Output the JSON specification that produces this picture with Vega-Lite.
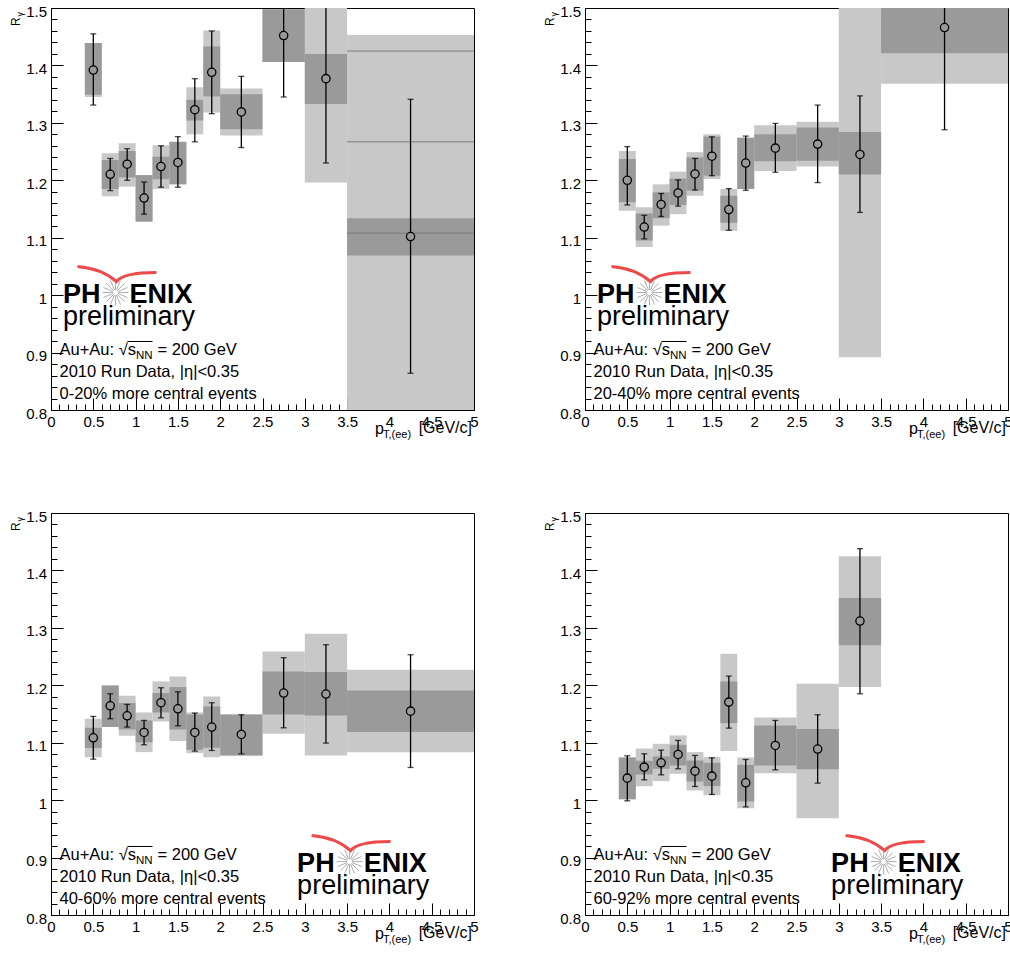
{
"$schema": "https://vega.github.io/schema/vega-lite/v6.json",
"background": "white",
"padding": {"left": 9, "top": 3, "right": 5, "bottom": 5},
"config": {
 "view": {"stroke": "black", "strokeWidth": 1},
 "axis": {"labelFont": "Liberation Sans", "labelFontSize": 15, "labelColor": "black", "tickColor": "black", "tickWidth": 1, "domainColor": "black", "domainWidth": 1, "grid": false, "labelOverlap": false, "labelFlush": false, "tickCount": 200},
 "text": {"font": "Liberation Sans", "color": "black"}
},
"datasets": {
 "pts": [
  {"p":1,"x":0.5,"y":1.392,"elo":1.331,"ehi":1.455,"slo":1.345,"shi":1.439,"dlo":1.349,"dhi":1.439,"xl":0.4,"xh":0.6},
  {"p":1,"x":0.7,"y":1.2105,"elo":1.182,"ehi":1.238,"slo":1.172,"shi":1.247,"dlo":1.185,"dhi":1.2355,"xl":0.6,"xh":0.8},
  {"p":1,"x":0.9,"y":1.228,"elo":1.2,"ehi":1.255,"slo":1.189,"shi":1.2645,"dlo":1.205,"dhi":1.251,"xl":0.8,"xh":1.0},
  {"p":1,"x":1.1,"y":1.169,"elo":1.141,"ehi":1.197,"slo":1.128,"shi":1.209,"dlo":1.128,"dhi":1.209,"xl":1.0,"xh":1.2},
  {"p":1,"x":1.3,"y":1.224,"elo":1.188,"ehi":1.26,"slo":1.185,"shi":1.261,"dlo":1.202,"dhi":1.241,"xl":1.2,"xh":1.4},
  {"p":1,"x":1.5,"y":1.231,"elo":1.188,"ehi":1.276,"slo":1.193,"shi":1.267,"dlo":1.193,"dhi":1.267,"xl":1.4,"xh":1.6},
  {"p":1,"x":1.7,"y":1.323,"elo":1.267,"ehi":1.377,"slo":1.28,"shi":1.362,"dlo":1.304,"dhi":1.34,"xl":1.6,"xh":1.8},
  {"p":1,"x":1.9,"y":1.388,"elo":1.316,"ehi":1.46,"slo":1.318,"shi":1.461,"dlo":1.346,"dhi":1.433,"xl":1.8,"xh":2.0},
  {"p":1,"x":2.25,"y":1.319,"elo":1.257,"ehi":1.381,"slo":1.278,"shi":1.36,"dlo":1.289,"dhi":1.35,"xl":2.0,"xh":2.5},
  {"p":1,"x":2.75,"y":1.452,"elo":1.345,"ehi":1.559,"slo":1.406,"shi":1.498,"dlo":1.406,"dhi":1.498,"xl":2.5,"xh":3.0},
  {"p":1,"x":3.25,"y":1.377,"elo":1.23,"ehi":1.524,"slo":1.196,"shi":1.558,"dlo":1.333,"dhi":1.42,"xl":3.0,"xh":3.5},
  {"p":1,"x":4.25,"y":1.102,"elo":0.864,"ehi":1.341,"slo":0.751,"shi":1.453,"dlo":1.069,"dhi":1.134,"xl":3.5,"xh":5.0},
  {"p":2,"x":0.5,"y":1.2,"elo":1.157,"ehi":1.2587,"slo":1.1471,"shi":1.2512,"dlo":1.1616,"dhi":1.2372,"xl":0.4,"xh":0.6},
  {"p":2,"x":0.7,"y":1.1186,"elo":1.098,"ehi":1.139,"slo":1.084,"shi":1.153,"dlo":1.095,"dhi":1.142,"xl":0.6,"xh":0.8},
  {"p":2,"x":0.9,"y":1.158,"elo":1.137,"ehi":1.177,"slo":1.121,"shi":1.193,"dlo":1.134,"dhi":1.179,"xl":0.8,"xh":1.0},
  {"p":2,"x":1.1,"y":1.178,"elo":1.155,"ehi":1.2006,"slo":1.141,"shi":1.215,"dlo":1.157,"dhi":1.203,"xl":1.0,"xh":1.2},
  {"p":2,"x":1.3,"y":1.211,"elo":1.183,"ehi":1.238,"slo":1.173,"shi":1.249,"dlo":1.182,"dhi":1.24,"xl":1.2,"xh":1.4},
  {"p":2,"x":1.5,"y":1.242,"elo":1.208,"ehi":1.2756,"slo":1.2023,"shi":1.28,"dlo":1.208,"dhi":1.276,"xl":1.4,"xh":1.6},
  {"p":2,"x":1.7,"y":1.149,"elo":1.113,"ehi":1.1855,"slo":1.112,"shi":1.185,"dlo":1.126,"dhi":1.173,"xl":1.6,"xh":1.8},
  {"p":2,"x":1.9,"y":1.23,"elo":1.1826,"ehi":1.277,"slo":1.185,"shi":1.274,"dlo":1.185,"dhi":1.274,"xl":1.8,"xh":2.0},
  {"p":2,"x":2.25,"y":1.256,"elo":1.214,"ehi":1.299,"slo":1.216,"shi":1.296,"dlo":1.233,"dhi":1.28,"xl":2.0,"xh":2.5},
  {"p":2,"x":2.75,"y":1.263,"elo":1.196,"ehi":1.331,"slo":1.224,"shi":1.302,"dlo":1.234,"dhi":1.292,"xl":2.5,"xh":3.0},
  {"p":2,"x":3.25,"y":1.245,"elo":1.144,"ehi":1.347,"slo":0.892,"shi":1.598,"dlo":1.21,"dhi":1.284,"xl":3.0,"xh":3.5},
  {"p":2,"x":4.25,"y":1.466,"elo":1.288,"ehi":1.644,"slo":1.368,"shi":1.564,"dlo":1.421,"dhi":1.511,"xl":3.5,"xh":5.0},
  {"p":3,"x":0.5,"y":1.1086,"elo":1.0714,"ehi":1.1458,"slo":1.0749,"shi":1.1417,"dlo":1.0906,"dhi":1.126,"xl":0.4,"xh":0.6},
  {"p":3,"x":0.7,"y":1.1643,"elo":1.1417,"ehi":1.1852,"slo":1.1272,"shi":1.1998,"dlo":1.1272,"dhi":1.1998,"xl":0.6,"xh":0.8},
  {"p":3,"x":0.9,"y":1.1469,"elo":1.1272,"ehi":1.1667,"slo":1.1121,"shi":1.1818,"dlo":1.1231,"dhi":1.169,"xl":0.8,"xh":1.0},
  {"p":3,"x":1.1,"y":1.1179,"elo":1.0964,"ehi":1.1388,"slo":1.0836,"shi":1.1527,"dlo":1.1005,"dhi":1.1388,"xl":1.0,"xh":1.2},
  {"p":3,"x":1.3,"y":1.1696,"elo":1.1434,"ehi":1.1957,"slo":1.137,"shi":1.2067,"dlo":1.1527,"dhi":1.1864,"xl":1.2,"xh":1.4},
  {"p":3,"x":1.5,"y":1.1591,"elo":1.1295,"ehi":1.1887,"slo":1.1028,"shi":1.2154,"dlo":1.1231,"dhi":1.1969,"xl":1.4,"xh":1.6},
  {"p":3,"x":1.7,"y":1.1179,"elo":1.0854,"ehi":1.1516,"slo":1.0819,"shi":1.1527,"dlo":1.0877,"dhi":1.1492,"xl":1.6,"xh":1.8},
  {"p":3,"x":1.9,"y":1.1272,"elo":1.0865,"ehi":1.1696,"slo":1.0749,"shi":1.1806,"dlo":1.0912,"dhi":1.1632,"xl":1.8,"xh":2.0},
  {"p":3,"x":2.25,"y":1.1144,"elo":1.0807,"ehi":1.1487,"slo":1.0778,"shi":1.1492,"dlo":1.0778,"dhi":1.1492,"xl":2.0,"xh":2.5},
  {"p":3,"x":2.75,"y":1.1864,"elo":1.126,"ehi":1.248,"slo":1.1156,"shi":1.259,"dlo":1.1492,"dhi":1.2242,"xl":2.5,"xh":3.0},
  {"p":3,"x":3.25,"y":1.1847,"elo":1.0993,"ehi":1.2706,"slo":1.0778,"shi":1.2898,"dlo":1.1475,"dhi":1.223,"xl":3.0,"xh":3.5},
  {"p":3,"x":4.25,"y":1.155,"elo":1.0569,"ehi":1.2532,"slo":1.0836,"shi":1.2271,"dlo":1.1185,"dhi":1.191,"xl":3.5,"xh":5.0},
  {"p":4,"x":0.5,"y":1.0383,"elo":0.9988,"ehi":1.0772,"slo":1.0017,"shi":1.0743,"dlo":1.0017,"dhi":1.0743,"xl":0.4,"xh":0.6},
  {"p":4,"x":0.7,"y":1.0575,"elo":1.0354,"ehi":1.0807,"slo":1.0244,"shi":1.09,"dlo":1.0447,"dhi":1.0685,"xl":0.6,"xh":0.8},
  {"p":4,"x":0.9,"y":1.065,"elo":1.0441,"ehi":1.0871,"slo":1.0331,"shi":1.0981,"dlo":1.0546,"dhi":1.0761,"xl":0.8,"xh":1.0},
  {"p":4,"x":1.1,"y":1.0796,"elo":1.0546,"ehi":1.104,"slo":1.0459,"shi":1.1127,"dlo":1.0604,"dhi":1.0964,"xl":1.0,"xh":1.2},
  {"p":4,"x":1.3,"y":1.0505,"elo":1.0238,"ehi":1.0778,"slo":1.0168,"shi":1.0836,"dlo":1.0325,"dhi":1.069,"xl":1.2,"xh":1.4},
  {"p":4,"x":1.5,"y":1.0418,"elo":1.0099,"ehi":1.0737,"slo":1.0087,"shi":1.0749,"dlo":1.0244,"dhi":1.065,"xl":1.4,"xh":1.6},
  {"p":4,"x":1.7,"y":1.1707,"elo":1.1254,"ehi":1.216,"slo":1.0854,"shi":1.2549,"dlo":1.1341,"dhi":1.2067,"xl":1.6,"xh":1.8},
  {"p":4,"x":1.9,"y":1.0302,"elo":0.9883,"ehi":1.0708,"slo":0.9861,"shi":1.0743,"dlo":0.9977,"dhi":1.0615,"xl":1.8,"xh":2.0},
  {"p":4,"x":2.25,"y":1.0952,"elo":1.0528,"ehi":1.1388,"slo":1.047,"shi":1.144,"dlo":1.0604,"dhi":1.13,"xl":2.0,"xh":2.5},
  {"p":4,"x":2.75,"y":1.0889,"elo":1.0296,"ehi":1.1487,"slo":0.9686,"shi":1.2027,"dlo":1.054,"dhi":1.1237,"xl":2.5,"xh":3.0},
  {"p":4,"x":3.25,"y":1.3118,"elo":1.1852,"ehi":1.4379,"slo":1.1969,"shi":1.4245,"dlo":1.2695,"dhi":1.3519,"xl":3.0,"xh":3.5}
 ],
 "lines": [
  {"p":1,"lo":3.5,"hi":5.0,"y":1.425},
  {"p":1,"lo":3.5,"hi":5.0,"y":1.267},
  {"p":1,"lo":3.5,"hi":5.0,"y":1.108}
 ]
},
"concat": [
 {"width": 423, "height": 402, "layer": [
  {"data": {"name": "pts"}, "transform": [{"filter": "datum.p == 1"}], "mark": {"type": "rect", "fill": "#c8c8c8", "clip": true},
   "encoding": {"x": {"field": "xl", "type": "quantitative", "scale": {"domain": [0, 5], "nice": false, "zero": false},
     "axis": {"title": null, "tickCount": 200, "values": [0,0.1,0.2,0.3,0.4,0.5,0.6,0.7,0.8,0.9,1,1.1,1.2,1.3,1.4,1.5,1.6,1.7,1.8,1.9,2,2.1,2.2,2.3,2.4,2.5,2.6,2.7,2.8,2.9,3,3.1,3.2,3.3,3.4,3.5,3.6,3.7,3.8,3.9,4,4.1,4.2,4.3,4.4,4.5,4.6,4.7,4.8,4.9,5],
      "labelExpr": "abs(datum.value*2-round(datum.value*2)) < 0.001 ? format(datum.value, '~g') : ''",
      "tickSize": {"condition": {"test": "abs(datum.value*2-round(datum.value*2)) < 0.001", "value": -12}, "value": -6},
      "labelPadding": 16.5, "labelBaseline": "top"}},
    "x2": {"field": "xh"},
    "y": {"field": "slo", "type": "quantitative", "scale": {"domain": [0.8, 1.5], "nice": false, "zero": false},
     "axis": {"title": null, "tickCount": 200, "values": [0.8,0.82,0.84,0.86,0.88,0.9,0.92,0.94,0.96,0.98,1,1.02,1.04,1.06,1.08,1.1,1.12,1.14,1.16,1.18,1.2,1.22,1.24,1.26,1.28,1.3,1.32,1.34,1.36,1.38,1.4,1.42,1.44,1.46,1.48,1.5],
      "labelExpr": "abs(datum.value*10-round(datum.value*10)) < 0.001 ? format(datum.value, '~g') : ''",
      "tickSize": {"condition": {"test": "abs(datum.value*10-round(datum.value*10)) < 0.001", "value": -12}, "value": -6},
      "labelPadding": 16.5, "labelOffset": 3, "labelBaseline": "middle"}},
    "y2": {"field": "shi"}}},
  {"data": {"name": "pts"}, "transform": [{"filter": "datum.p == 1"}], "mark": {"type": "rect", "fill": "#9a9a9a", "clip": true},
   "encoding": {"x": {"field": "xl", "type": "quantitative", "title": null}, "x2": {"field": "xh"}, "y": {"field": "dlo", "type": "quantitative", "title": null}, "y2": {"field": "dhi"}}},
  {"data": {"name": "lines"}, "transform": [{"filter": "datum.p == 1"}], "mark": {"type": "rule", "color": "#7a7a7a", "strokeWidth": 1, "clip": true},
   "encoding": {"x": {"field": "lo", "type": "quantitative", "title": null}, "x2": {"field": "hi"}, "y": {"field": "y", "type": "quantitative", "title": null}}},
  {"data": {"name": "pts"}, "transform": [{"filter": "datum.p == 1"}], "mark": {"type": "rule", "color": "black", "strokeWidth": 1.3, "clip": true},
   "encoding": {"x": {"field": "x", "type": "quantitative", "title": null}, "y": {"field": "elo", "type": "quantitative", "title": null}, "y2": {"field": "ehi"}}},
  {"data": {"name": "pts"}, "transform": [{"filter": "datum.p == 1"}], "mark": {"type": "tick", "orient": "horizontal", "size": 6, "thickness": 1.3, "color": "black", "clip": true},
   "encoding": {"x": {"field": "x", "type": "quantitative", "title": null}, "y": {"field": "elo", "type": "quantitative", "title": null}}},
  {"data": {"name": "pts"}, "transform": [{"filter": "datum.p == 1"}], "mark": {"type": "tick", "orient": "horizontal", "size": 6, "thickness": 1.3, "color": "black", "clip": true},
   "encoding": {"x": {"field": "x", "type": "quantitative", "title": null}, "y": {"field": "ehi", "type": "quantitative", "title": null}}},
  {"data": {"name": "pts"}, "transform": [{"filter": "datum.p == 1"}], "mark": {"type": "point", "shape": "circle", "size": 68, "filled": true, "fill": "#9a9a9a", "stroke": "black", "strokeWidth": 1.3, "opacity": 1, "clip": true},
   "encoding": {"x": {"field": "x", "type": "quantitative", "title": null}, "y": {"field": "y", "type": "quantitative", "title": null}}},
  {"data": {"values": [{}]}, "mark": {"type": "point", "shape": "M-0.95,-0.65 Q-0.35,-0.6 0.025,-0.275 Q0.2,-0.5 1.025,-0.5", "size": 6400, "filled": false, "stroke": "#e60000", "strokeWidth": 3},
   "encoding": {"x": {"datum": 0.762}, "y": {"datum": 1.0046}}},
  {"data": {"values": [{}]}, "mark": {"type": "point", "shape": "M0.2,0L1,0M0.185,0.077L0.924,0.383M0.141,0.141L0.707,0.707M0.077,0.185L0.383,0.924M0,0.2L0,1M-0.077,0.185L-0.383,0.924M-0.141,0.141L-0.707,0.707M-0.185,0.077L-0.924,0.383M-0.2,0L-1,0M-0.185,-0.077L-0.924,-0.383M-0.141,-0.141L-0.707,-0.707M-0.077,-0.185L-0.383,-0.924M0,-0.2L0,-1M0.077,-0.185L0.383,-0.924M0.141,-0.141L0.707,-0.707M0.185,-0.077L0.924,-0.383", "size": 676, "filled": false, "stroke": "#8c8c8c", "strokeWidth": 1},
   "encoding": {"x": {"datum": 0.762}, "y": {"datum": 1.0046}}},
  {"data": {"values": [{}]}, "mark": {"type": "text", "text": "PH", "fontSize": 27, "fontWeight": "bold", "align": "right", "baseline": "alphabetic", "dx": -15, "dy": 10},
   "encoding": {"x": {"datum": 0.762}, "y": {"datum": 1.0046}}},
  {"data": {"values": [{}]}, "mark": {"type": "text", "text": "ENIX", "fontSize": 27, "fontWeight": "bold", "align": "left", "baseline": "alphabetic", "dx": 14, "dy": 10},
   "encoding": {"x": {"datum": 0.762}, "y": {"datum": 1.0046}}},
  {"data": {"values": [{}]}, "mark": {"type": "text", "text": "preliminary", "fontSize": 27, "align": "center", "baseline": "alphabetic", "dx": 13.5, "dy": 32},
   "encoding": {"x": {"datum": 0.762}, "y": {"datum": 1.0046}}},
  {"data": {"values": [{}]}, "mark": {"type": "text", "text": "Au+Au: \u221as", "fontSize": 16.5, "align": "left", "baseline": "alphabetic", "dx": 8.5, "dy": -55.5},
   "encoding": {"x": {"datum": 0}, "y": {"datum": 0.8}}},
  {"data": {"values": [{}]}, "mark": {"type": "text", "text": "NN", "fontSize": 11.5, "align": "left", "baseline": "alphabetic", "dx": 85, "dy": -51.5},
   "encoding": {"x": {"datum": 0}, "y": {"datum": 0.8}}},
  {"data": {"values": [{}]}, "mark": {"type": "text", "text": "= 200 GeV", "fontSize": 16.5, "align": "left", "baseline": "alphabetic", "dx": 106.5, "dy": -55.5},
   "encoding": {"x": {"datum": 0}, "y": {"datum": 0.8}}},
  {"data": {"values": [{}]}, "mark": {"type": "rule", "color": "black", "strokeWidth": 1},
   "encoding": {"x": {"datum": 0.904}, "x2": {"datum": 1.2}, "y": {"datum": 0.9193}}},
  {"data": {"values": [{}]}, "mark": {"type": "text", "text": "2010 Run Data, |\u03b7|<0.35", "fontSize": 16.5, "align": "left", "baseline": "alphabetic", "dx": 8.5, "dy": -33.5},
   "encoding": {"x": {"datum": 0}, "y": {"datum": 0.8}}},
  {"data": {"values": [{}]}, "mark": {"type": "text", "text": "0-20% more central events", "fontSize": 16.5, "align": "left", "baseline": "alphabetic", "dx": 8.5, "dy": -11.5},
   "encoding": {"x": {"datum": 0}, "y": {"datum": 0.8}}},
  {"data": {"values": [{}]}, "mark": {"type": "text", "text": "p", "fontSize": 16, "align": "left", "baseline": "alphabetic", "dx": -99, "dy": 24},
   "encoding": {"x": {"datum": 5}, "y": {"datum": 0.8}}},
  {"data": {"values": [{}]}, "mark": {"type": "text", "text": "T,(ee)", "fontSize": 11, "align": "left", "baseline": "alphabetic", "dx": -91, "dy": 28},
   "encoding": {"x": {"datum": 5}, "y": {"datum": 0.8}}},
  {"data": {"values": [{}]}, "mark": {"type": "text", "text": "[GeV/c]", "fontSize": 16, "align": "right", "baseline": "alphabetic", "dx": -2, "dy": 22.5},
   "encoding": {"x": {"datum": 5}, "y": {"datum": 0.8}}},
  {"data": {"values": [{}]}, "mark": {"type": "text", "text": "R", "fontSize": 12, "angle": 270, "align": "left", "baseline": "alphabetic", "dx": -18, "dy": -31},
   "encoding": {"x": {"datum": 0}, "y": {"datum": 1.5}}},
  {"data": {"values": [{}]}, "mark": {"type": "text", "text": "\u03b3", "fontSize": 9, "angle": 270, "align": "left", "baseline": "alphabetic", "dx": -8.5, "dy": -28.5},
   "encoding": {"x": {"datum": 0}, "y": {"datum": 1.5}}}
 ]},
 {"width": 423, "height": 402, "layer": [
  {"data": {"name": "pts"}, "transform": [{"filter": "datum.p == 2"}], "mark": {"type": "rect", "fill": "#c8c8c8", "clip": true},
   "encoding": {"x": {"field": "xl", "type": "quantitative", "scale": {"domain": [0, 5], "nice": false, "zero": false},
     "axis": {"title": null, "tickCount": 200, "values": [0,0.1,0.2,0.3,0.4,0.5,0.6,0.7,0.8,0.9,1,1.1,1.2,1.3,1.4,1.5,1.6,1.7,1.8,1.9,2,2.1,2.2,2.3,2.4,2.5,2.6,2.7,2.8,2.9,3,3.1,3.2,3.3,3.4,3.5,3.6,3.7,3.8,3.9,4,4.1,4.2,4.3,4.4,4.5,4.6,4.7,4.8,4.9,5],
      "labelExpr": "abs(datum.value*2-round(datum.value*2)) < 0.001 ? format(datum.value, '~g') : ''",
      "tickSize": {"condition": {"test": "abs(datum.value*2-round(datum.value*2)) < 0.001", "value": -12}, "value": -6},
      "labelPadding": 16.5, "labelBaseline": "top"}},
    "x2": {"field": "xh"},
    "y": {"field": "slo", "type": "quantitative", "scale": {"domain": [0.8, 1.5], "nice": false, "zero": false},
     "axis": {"title": null, "tickCount": 200, "values": [0.8,0.82,0.84,0.86,0.88,0.9,0.92,0.94,0.96,0.98,1,1.02,1.04,1.06,1.08,1.1,1.12,1.14,1.16,1.18,1.2,1.22,1.24,1.26,1.28,1.3,1.32,1.34,1.36,1.38,1.4,1.42,1.44,1.46,1.48,1.5],
      "labelExpr": "abs(datum.value*10-round(datum.value*10)) < 0.001 ? format(datum.value, '~g') : ''",
      "tickSize": {"condition": {"test": "abs(datum.value*10-round(datum.value*10)) < 0.001", "value": -12}, "value": -6},
      "labelPadding": 16.5, "labelOffset": 3, "labelBaseline": "middle"}},
    "y2": {"field": "shi"}}},
  {"data": {"name": "pts"}, "transform": [{"filter": "datum.p == 2"}], "mark": {"type": "rect", "fill": "#9a9a9a", "clip": true},
   "encoding": {"x": {"field": "xl", "type": "quantitative", "title": null}, "x2": {"field": "xh"}, "y": {"field": "dlo", "type": "quantitative", "title": null}, "y2": {"field": "dhi"}}},
  {"data": {"name": "pts"}, "transform": [{"filter": "datum.p == 2"}], "mark": {"type": "rule", "color": "black", "strokeWidth": 1.3, "clip": true},
   "encoding": {"x": {"field": "x", "type": "quantitative", "title": null}, "y": {"field": "elo", "type": "quantitative", "title": null}, "y2": {"field": "ehi"}}},
  {"data": {"name": "pts"}, "transform": [{"filter": "datum.p == 2"}], "mark": {"type": "tick", "orient": "horizontal", "size": 6, "thickness": 1.3, "color": "black", "clip": true},
   "encoding": {"x": {"field": "x", "type": "quantitative", "title": null}, "y": {"field": "elo", "type": "quantitative", "title": null}}},
  {"data": {"name": "pts"}, "transform": [{"filter": "datum.p == 2"}], "mark": {"type": "tick", "orient": "horizontal", "size": 6, "thickness": 1.3, "color": "black", "clip": true},
   "encoding": {"x": {"field": "x", "type": "quantitative", "title": null}, "y": {"field": "ehi", "type": "quantitative", "title": null}}},
  {"data": {"name": "pts"}, "transform": [{"filter": "datum.p == 2"}], "mark": {"type": "point", "shape": "circle", "size": 68, "filled": true, "fill": "#9a9a9a", "stroke": "black", "strokeWidth": 1.3, "opacity": 1, "clip": true},
   "encoding": {"x": {"field": "x", "type": "quantitative", "title": null}, "y": {"field": "y", "type": "quantitative", "title": null}}},
  {"data": {"values": [{}]}, "mark": {"type": "point", "shape": "M-0.95,-0.65 Q-0.35,-0.6 0.025,-0.275 Q0.2,-0.5 1.025,-0.5", "size": 6400, "filled": false, "stroke": "#e60000", "strokeWidth": 3},
   "encoding": {"x": {"datum": 0.762}, "y": {"datum": 1.0046}}},
  {"data": {"values": [{}]}, "mark": {"type": "point", "shape": "M0.2,0L1,0M0.185,0.077L0.924,0.383M0.141,0.141L0.707,0.707M0.077,0.185L0.383,0.924M0,0.2L0,1M-0.077,0.185L-0.383,0.924M-0.141,0.141L-0.707,0.707M-0.185,0.077L-0.924,0.383M-0.2,0L-1,0M-0.185,-0.077L-0.924,-0.383M-0.141,-0.141L-0.707,-0.707M-0.077,-0.185L-0.383,-0.924M0,-0.2L0,-1M0.077,-0.185L0.383,-0.924M0.141,-0.141L0.707,-0.707M0.185,-0.077L0.924,-0.383", "size": 676, "filled": false, "stroke": "#8c8c8c", "strokeWidth": 1},
   "encoding": {"x": {"datum": 0.762}, "y": {"datum": 1.0046}}},
  {"data": {"values": [{}]}, "mark": {"type": "text", "text": "PH", "fontSize": 27, "fontWeight": "bold", "align": "right", "baseline": "alphabetic", "dx": -15, "dy": 10},
   "encoding": {"x": {"datum": 0.762}, "y": {"datum": 1.0046}}},
  {"data": {"values": [{}]}, "mark": {"type": "text", "text": "ENIX", "fontSize": 27, "fontWeight": "bold", "align": "left", "baseline": "alphabetic", "dx": 14, "dy": 10},
   "encoding": {"x": {"datum": 0.762}, "y": {"datum": 1.0046}}},
  {"data": {"values": [{}]}, "mark": {"type": "text", "text": "preliminary", "fontSize": 27, "align": "center", "baseline": "alphabetic", "dx": 13.5, "dy": 32},
   "encoding": {"x": {"datum": 0.762}, "y": {"datum": 1.0046}}},
  {"data": {"values": [{}]}, "mark": {"type": "text", "text": "Au+Au: \u221as", "fontSize": 16.5, "align": "left", "baseline": "alphabetic", "dx": 8.5, "dy": -55.5},
   "encoding": {"x": {"datum": 0}, "y": {"datum": 0.8}}},
  {"data": {"values": [{}]}, "mark": {"type": "text", "text": "NN", "fontSize": 11.5, "align": "left", "baseline": "alphabetic", "dx": 85, "dy": -51.5},
   "encoding": {"x": {"datum": 0}, "y": {"datum": 0.8}}},
  {"data": {"values": [{}]}, "mark": {"type": "text", "text": "= 200 GeV", "fontSize": 16.5, "align": "left", "baseline": "alphabetic", "dx": 106.5, "dy": -55.5},
   "encoding": {"x": {"datum": 0}, "y": {"datum": 0.8}}},
  {"data": {"values": [{}]}, "mark": {"type": "rule", "color": "black", "strokeWidth": 1},
   "encoding": {"x": {"datum": 0.904}, "x2": {"datum": 1.2}, "y": {"datum": 0.9193}}},
  {"data": {"values": [{}]}, "mark": {"type": "text", "text": "2010 Run Data, |\u03b7|<0.35", "fontSize": 16.5, "align": "left", "baseline": "alphabetic", "dx": 8.5, "dy": -33.5},
   "encoding": {"x": {"datum": 0}, "y": {"datum": 0.8}}},
  {"data": {"values": [{}]}, "mark": {"type": "text", "text": "20-40% more central events", "fontSize": 16.5, "align": "left", "baseline": "alphabetic", "dx": 8.5, "dy": -11.5},
   "encoding": {"x": {"datum": 0}, "y": {"datum": 0.8}}},
  {"data": {"values": [{}]}, "mark": {"type": "text", "text": "p", "fontSize": 16, "align": "left", "baseline": "alphabetic", "dx": -99, "dy": 24},
   "encoding": {"x": {"datum": 5}, "y": {"datum": 0.8}}},
  {"data": {"values": [{}]}, "mark": {"type": "text", "text": "T,(ee)", "fontSize": 11, "align": "left", "baseline": "alphabetic", "dx": -91, "dy": 28},
   "encoding": {"x": {"datum": 5}, "y": {"datum": 0.8}}},
  {"data": {"values": [{}]}, "mark": {"type": "text", "text": "[GeV/c]", "fontSize": 16, "align": "right", "baseline": "alphabetic", "dx": -2, "dy": 22.5},
   "encoding": {"x": {"datum": 5}, "y": {"datum": 0.8}}},
  {"data": {"values": [{}]}, "mark": {"type": "text", "text": "R", "fontSize": 12, "angle": 270, "align": "left", "baseline": "alphabetic", "dx": -18, "dy": -31},
   "encoding": {"x": {"datum": 0}, "y": {"datum": 1.5}}},
  {"data": {"values": [{}]}, "mark": {"type": "text", "text": "\u03b3", "fontSize": 9, "angle": 270, "align": "left", "baseline": "alphabetic", "dx": -8.5, "dy": -28.5},
   "encoding": {"x": {"datum": 0}, "y": {"datum": 1.5}}}
 ]},
 {"width": 423, "height": 402, "layer": [
  {"data": {"name": "pts"}, "transform": [{"filter": "datum.p == 3"}], "mark": {"type": "rect", "fill": "#c8c8c8", "clip": true},
   "encoding": {"x": {"field": "xl", "type": "quantitative", "scale": {"domain": [0, 5], "nice": false, "zero": false},
     "axis": {"title": null, "tickCount": 200, "values": [0,0.1,0.2,0.3,0.4,0.5,0.6,0.7,0.8,0.9,1,1.1,1.2,1.3,1.4,1.5,1.6,1.7,1.8,1.9,2,2.1,2.2,2.3,2.4,2.5,2.6,2.7,2.8,2.9,3,3.1,3.2,3.3,3.4,3.5,3.6,3.7,3.8,3.9,4,4.1,4.2,4.3,4.4,4.5,4.6,4.7,4.8,4.9,5],
      "labelExpr": "abs(datum.value*2-round(datum.value*2)) < 0.001 ? format(datum.value, '~g') : ''",
      "tickSize": {"condition": {"test": "abs(datum.value*2-round(datum.value*2)) < 0.001", "value": -12}, "value": -6},
      "labelPadding": 16.5, "labelBaseline": "top"}},
    "x2": {"field": "xh"},
    "y": {"field": "slo", "type": "quantitative", "scale": {"domain": [0.8, 1.5], "nice": false, "zero": false},
     "axis": {"title": null, "tickCount": 200, "values": [0.8,0.82,0.84,0.86,0.88,0.9,0.92,0.94,0.96,0.98,1,1.02,1.04,1.06,1.08,1.1,1.12,1.14,1.16,1.18,1.2,1.22,1.24,1.26,1.28,1.3,1.32,1.34,1.36,1.38,1.4,1.42,1.44,1.46,1.48,1.5],
      "labelExpr": "abs(datum.value*10-round(datum.value*10)) < 0.001 ? format(datum.value, '~g') : ''",
      "tickSize": {"condition": {"test": "abs(datum.value*10-round(datum.value*10)) < 0.001", "value": -12}, "value": -6},
      "labelPadding": 16.5, "labelOffset": 3, "labelBaseline": "middle"}},
    "y2": {"field": "shi"}}},
  {"data": {"name": "pts"}, "transform": [{"filter": "datum.p == 3"}], "mark": {"type": "rect", "fill": "#9a9a9a", "clip": true},
   "encoding": {"x": {"field": "xl", "type": "quantitative", "title": null}, "x2": {"field": "xh"}, "y": {"field": "dlo", "type": "quantitative", "title": null}, "y2": {"field": "dhi"}}},
  {"data": {"name": "pts"}, "transform": [{"filter": "datum.p == 3"}], "mark": {"type": "rule", "color": "black", "strokeWidth": 1.3, "clip": true},
   "encoding": {"x": {"field": "x", "type": "quantitative", "title": null}, "y": {"field": "elo", "type": "quantitative", "title": null}, "y2": {"field": "ehi"}}},
  {"data": {"name": "pts"}, "transform": [{"filter": "datum.p == 3"}], "mark": {"type": "tick", "orient": "horizontal", "size": 6, "thickness": 1.3, "color": "black", "clip": true},
   "encoding": {"x": {"field": "x", "type": "quantitative", "title": null}, "y": {"field": "elo", "type": "quantitative", "title": null}}},
  {"data": {"name": "pts"}, "transform": [{"filter": "datum.p == 3"}], "mark": {"type": "tick", "orient": "horizontal", "size": 6, "thickness": 1.3, "color": "black", "clip": true},
   "encoding": {"x": {"field": "x", "type": "quantitative", "title": null}, "y": {"field": "ehi", "type": "quantitative", "title": null}}},
  {"data": {"name": "pts"}, "transform": [{"filter": "datum.p == 3"}], "mark": {"type": "point", "shape": "circle", "size": 68, "filled": true, "fill": "#9a9a9a", "stroke": "black", "strokeWidth": 1.3, "opacity": 1, "clip": true},
   "encoding": {"x": {"field": "x", "type": "quantitative", "title": null}, "y": {"field": "y", "type": "quantitative", "title": null}}},
  {"data": {"values": [{}]}, "mark": {"type": "point", "shape": "M-0.95,-0.65 Q-0.35,-0.6 0.025,-0.275 Q0.2,-0.5 1.025,-0.5", "size": 6400, "filled": false, "stroke": "#e60000", "strokeWidth": 3},
   "encoding": {"x": {"datum": 3.53}, "y": {"datum": 0.893}}},
  {"data": {"values": [{}]}, "mark": {"type": "point", "shape": "M0.2,0L1,0M0.185,0.077L0.924,0.383M0.141,0.141L0.707,0.707M0.077,0.185L0.383,0.924M0,0.2L0,1M-0.077,0.185L-0.383,0.924M-0.141,0.141L-0.707,0.707M-0.185,0.077L-0.924,0.383M-0.2,0L-1,0M-0.185,-0.077L-0.924,-0.383M-0.141,-0.141L-0.707,-0.707M-0.077,-0.185L-0.383,-0.924M0,-0.2L0,-1M0.077,-0.185L0.383,-0.924M0.141,-0.141L0.707,-0.707M0.185,-0.077L0.924,-0.383", "size": 676, "filled": false, "stroke": "#8c8c8c", "strokeWidth": 1},
   "encoding": {"x": {"datum": 3.53}, "y": {"datum": 0.893}}},
  {"data": {"values": [{}]}, "mark": {"type": "text", "text": "PH", "fontSize": 27, "fontWeight": "bold", "align": "right", "baseline": "alphabetic", "dx": -15, "dy": 10},
   "encoding": {"x": {"datum": 3.53}, "y": {"datum": 0.893}}},
  {"data": {"values": [{}]}, "mark": {"type": "text", "text": "ENIX", "fontSize": 27, "fontWeight": "bold", "align": "left", "baseline": "alphabetic", "dx": 14, "dy": 10},
   "encoding": {"x": {"datum": 3.53}, "y": {"datum": 0.893}}},
  {"data": {"values": [{}]}, "mark": {"type": "text", "text": "preliminary", "fontSize": 27, "align": "center", "baseline": "alphabetic", "dx": 13.5, "dy": 32},
   "encoding": {"x": {"datum": 3.53}, "y": {"datum": 0.893}}},
  {"data": {"values": [{}]}, "mark": {"type": "text", "text": "Au+Au: \u221as", "fontSize": 16.5, "align": "left", "baseline": "alphabetic", "dx": 8.5, "dy": -55.5},
   "encoding": {"x": {"datum": 0}, "y": {"datum": 0.8}}},
  {"data": {"values": [{}]}, "mark": {"type": "text", "text": "NN", "fontSize": 11.5, "align": "left", "baseline": "alphabetic", "dx": 85, "dy": -51.5},
   "encoding": {"x": {"datum": 0}, "y": {"datum": 0.8}}},
  {"data": {"values": [{}]}, "mark": {"type": "text", "text": "= 200 GeV", "fontSize": 16.5, "align": "left", "baseline": "alphabetic", "dx": 106.5, "dy": -55.5},
   "encoding": {"x": {"datum": 0}, "y": {"datum": 0.8}}},
  {"data": {"values": [{}]}, "mark": {"type": "rule", "color": "black", "strokeWidth": 1},
   "encoding": {"x": {"datum": 0.904}, "x2": {"datum": 1.2}, "y": {"datum": 0.9193}}},
  {"data": {"values": [{}]}, "mark": {"type": "text", "text": "2010 Run Data, |\u03b7|<0.35", "fontSize": 16.5, "align": "left", "baseline": "alphabetic", "dx": 8.5, "dy": -33.5},
   "encoding": {"x": {"datum": 0}, "y": {"datum": 0.8}}},
  {"data": {"values": [{}]}, "mark": {"type": "text", "text": "40-60% more central events", "fontSize": 16.5, "align": "left", "baseline": "alphabetic", "dx": 8.5, "dy": -11.5},
   "encoding": {"x": {"datum": 0}, "y": {"datum": 0.8}}},
  {"data": {"values": [{}]}, "mark": {"type": "text", "text": "p", "fontSize": 16, "align": "left", "baseline": "alphabetic", "dx": -99, "dy": 24},
   "encoding": {"x": {"datum": 5}, "y": {"datum": 0.8}}},
  {"data": {"values": [{}]}, "mark": {"type": "text", "text": "T,(ee)", "fontSize": 11, "align": "left", "baseline": "alphabetic", "dx": -91, "dy": 28},
   "encoding": {"x": {"datum": 5}, "y": {"datum": 0.8}}},
  {"data": {"values": [{}]}, "mark": {"type": "text", "text": "[GeV/c]", "fontSize": 16, "align": "right", "baseline": "alphabetic", "dx": -2, "dy": 22.5},
   "encoding": {"x": {"datum": 5}, "y": {"datum": 0.8}}},
  {"data": {"values": [{}]}, "mark": {"type": "text", "text": "R", "fontSize": 12, "angle": 270, "align": "left", "baseline": "alphabetic", "dx": -18, "dy": -31},
   "encoding": {"x": {"datum": 0}, "y": {"datum": 1.5}}},
  {"data": {"values": [{}]}, "mark": {"type": "text", "text": "\u03b3", "fontSize": 9, "angle": 270, "align": "left", "baseline": "alphabetic", "dx": -8.5, "dy": -28.5},
   "encoding": {"x": {"datum": 0}, "y": {"datum": 1.5}}}
 ]},
 {"width": 423, "height": 402, "layer": [
  {"data": {"name": "pts"}, "transform": [{"filter": "datum.p == 4"}], "mark": {"type": "rect", "fill": "#c8c8c8", "clip": true},
   "encoding": {"x": {"field": "xl", "type": "quantitative", "scale": {"domain": [0, 5], "nice": false, "zero": false},
     "axis": {"title": null, "tickCount": 200, "values": [0,0.1,0.2,0.3,0.4,0.5,0.6,0.7,0.8,0.9,1,1.1,1.2,1.3,1.4,1.5,1.6,1.7,1.8,1.9,2,2.1,2.2,2.3,2.4,2.5,2.6,2.7,2.8,2.9,3,3.1,3.2,3.3,3.4,3.5,3.6,3.7,3.8,3.9,4,4.1,4.2,4.3,4.4,4.5,4.6,4.7,4.8,4.9,5],
      "labelExpr": "abs(datum.value*2-round(datum.value*2)) < 0.001 ? format(datum.value, '~g') : ''",
      "tickSize": {"condition": {"test": "abs(datum.value*2-round(datum.value*2)) < 0.001", "value": -12}, "value": -6},
      "labelPadding": 16.5, "labelBaseline": "top"}},
    "x2": {"field": "xh"},
    "y": {"field": "slo", "type": "quantitative", "scale": {"domain": [0.8, 1.5], "nice": false, "zero": false},
     "axis": {"title": null, "tickCount": 200, "values": [0.8,0.82,0.84,0.86,0.88,0.9,0.92,0.94,0.96,0.98,1,1.02,1.04,1.06,1.08,1.1,1.12,1.14,1.16,1.18,1.2,1.22,1.24,1.26,1.28,1.3,1.32,1.34,1.36,1.38,1.4,1.42,1.44,1.46,1.48,1.5],
      "labelExpr": "abs(datum.value*10-round(datum.value*10)) < 0.001 ? format(datum.value, '~g') : ''",
      "tickSize": {"condition": {"test": "abs(datum.value*10-round(datum.value*10)) < 0.001", "value": -12}, "value": -6},
      "labelPadding": 16.5, "labelOffset": 3, "labelBaseline": "middle"}},
    "y2": {"field": "shi"}}},
  {"data": {"name": "pts"}, "transform": [{"filter": "datum.p == 4"}], "mark": {"type": "rect", "fill": "#9a9a9a", "clip": true},
   "encoding": {"x": {"field": "xl", "type": "quantitative", "title": null}, "x2": {"field": "xh"}, "y": {"field": "dlo", "type": "quantitative", "title": null}, "y2": {"field": "dhi"}}},
  {"data": {"name": "pts"}, "transform": [{"filter": "datum.p == 4"}], "mark": {"type": "rule", "color": "black", "strokeWidth": 1.3, "clip": true},
   "encoding": {"x": {"field": "x", "type": "quantitative", "title": null}, "y": {"field": "elo", "type": "quantitative", "title": null}, "y2": {"field": "ehi"}}},
  {"data": {"name": "pts"}, "transform": [{"filter": "datum.p == 4"}], "mark": {"type": "tick", "orient": "horizontal", "size": 6, "thickness": 1.3, "color": "black", "clip": true},
   "encoding": {"x": {"field": "x", "type": "quantitative", "title": null}, "y": {"field": "elo", "type": "quantitative", "title": null}}},
  {"data": {"name": "pts"}, "transform": [{"filter": "datum.p == 4"}], "mark": {"type": "tick", "orient": "horizontal", "size": 6, "thickness": 1.3, "color": "black", "clip": true},
   "encoding": {"x": {"field": "x", "type": "quantitative", "title": null}, "y": {"field": "ehi", "type": "quantitative", "title": null}}},
  {"data": {"name": "pts"}, "transform": [{"filter": "datum.p == 4"}], "mark": {"type": "point", "shape": "circle", "size": 68, "filled": true, "fill": "#9a9a9a", "stroke": "black", "strokeWidth": 1.3, "opacity": 1, "clip": true},
   "encoding": {"x": {"field": "x", "type": "quantitative", "title": null}, "y": {"field": "y", "type": "quantitative", "title": null}}},
  {"data": {"values": [{}]}, "mark": {"type": "point", "shape": "M-0.95,-0.65 Q-0.35,-0.6 0.025,-0.275 Q0.2,-0.5 1.025,-0.5", "size": 6400, "filled": false, "stroke": "#e60000", "strokeWidth": 3},
   "encoding": {"x": {"datum": 3.53}, "y": {"datum": 0.893}}},
  {"data": {"values": [{}]}, "mark": {"type": "point", "shape": "M0.2,0L1,0M0.185,0.077L0.924,0.383M0.141,0.141L0.707,0.707M0.077,0.185L0.383,0.924M0,0.2L0,1M-0.077,0.185L-0.383,0.924M-0.141,0.141L-0.707,0.707M-0.185,0.077L-0.924,0.383M-0.2,0L-1,0M-0.185,-0.077L-0.924,-0.383M-0.141,-0.141L-0.707,-0.707M-0.077,-0.185L-0.383,-0.924M0,-0.2L0,-1M0.077,-0.185L0.383,-0.924M0.141,-0.141L0.707,-0.707M0.185,-0.077L0.924,-0.383", "size": 676, "filled": false, "stroke": "#8c8c8c", "strokeWidth": 1},
   "encoding": {"x": {"datum": 3.53}, "y": {"datum": 0.893}}},
  {"data": {"values": [{}]}, "mark": {"type": "text", "text": "PH", "fontSize": 27, "fontWeight": "bold", "align": "right", "baseline": "alphabetic", "dx": -15, "dy": 10},
   "encoding": {"x": {"datum": 3.53}, "y": {"datum": 0.893}}},
  {"data": {"values": [{}]}, "mark": {"type": "text", "text": "ENIX", "fontSize": 27, "fontWeight": "bold", "align": "left", "baseline": "alphabetic", "dx": 14, "dy": 10},
   "encoding": {"x": {"datum": 3.53}, "y": {"datum": 0.893}}},
  {"data": {"values": [{}]}, "mark": {"type": "text", "text": "preliminary", "fontSize": 27, "align": "center", "baseline": "alphabetic", "dx": 13.5, "dy": 32},
   "encoding": {"x": {"datum": 3.53}, "y": {"datum": 0.893}}},
  {"data": {"values": [{}]}, "mark": {"type": "text", "text": "Au+Au: \u221as", "fontSize": 16.5, "align": "left", "baseline": "alphabetic", "dx": 8.5, "dy": -55.5},
   "encoding": {"x": {"datum": 0}, "y": {"datum": 0.8}}},
  {"data": {"values": [{}]}, "mark": {"type": "text", "text": "NN", "fontSize": 11.5, "align": "left", "baseline": "alphabetic", "dx": 85, "dy": -51.5},
   "encoding": {"x": {"datum": 0}, "y": {"datum": 0.8}}},
  {"data": {"values": [{}]}, "mark": {"type": "text", "text": "= 200 GeV", "fontSize": 16.5, "align": "left", "baseline": "alphabetic", "dx": 106.5, "dy": -55.5},
   "encoding": {"x": {"datum": 0}, "y": {"datum": 0.8}}},
  {"data": {"values": [{}]}, "mark": {"type": "rule", "color": "black", "strokeWidth": 1},
   "encoding": {"x": {"datum": 0.904}, "x2": {"datum": 1.2}, "y": {"datum": 0.9193}}},
  {"data": {"values": [{}]}, "mark": {"type": "text", "text": "2010 Run Data, |\u03b7|<0.35", "fontSize": 16.5, "align": "left", "baseline": "alphabetic", "dx": 8.5, "dy": -33.5},
   "encoding": {"x": {"datum": 0}, "y": {"datum": 0.8}}},
  {"data": {"values": [{}]}, "mark": {"type": "text", "text": "60-92% more central events", "fontSize": 16.5, "align": "left", "baseline": "alphabetic", "dx": 8.5, "dy": -11.5},
   "encoding": {"x": {"datum": 0}, "y": {"datum": 0.8}}},
  {"data": {"values": [{}]}, "mark": {"type": "text", "text": "p", "fontSize": 16, "align": "left", "baseline": "alphabetic", "dx": -99, "dy": 24},
   "encoding": {"x": {"datum": 5}, "y": {"datum": 0.8}}},
  {"data": {"values": [{}]}, "mark": {"type": "text", "text": "T,(ee)", "fontSize": 11, "align": "left", "baseline": "alphabetic", "dx": -91, "dy": 28},
   "encoding": {"x": {"datum": 5}, "y": {"datum": 0.8}}},
  {"data": {"values": [{}]}, "mark": {"type": "text", "text": "[GeV/c]", "fontSize": 16, "align": "right", "baseline": "alphabetic", "dx": -2, "dy": 22.5},
   "encoding": {"x": {"datum": 5}, "y": {"datum": 0.8}}},
  {"data": {"values": [{}]}, "mark": {"type": "text", "text": "R", "fontSize": 12, "angle": 270, "align": "left", "baseline": "alphabetic", "dx": -18, "dy": -31},
   "encoding": {"x": {"datum": 0}, "y": {"datum": 1.5}}},
  {"data": {"values": [{}]}, "mark": {"type": "text", "text": "\u03b3", "fontSize": 9, "angle": 270, "align": "left", "baseline": "alphabetic", "dx": -8.5, "dy": -28.5},
   "encoding": {"x": {"datum": 0}, "y": {"datum": 1.5}}}
 ]}
],
"columns": 2,
"spacing": {"row": 103, "column": 111},
"bounds": "flush"
}
